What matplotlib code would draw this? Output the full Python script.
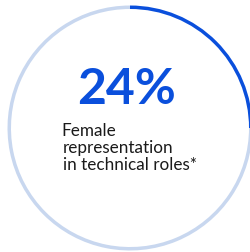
import matplotlib.pyplot as plt

# headline figure and the ring as drawn (the arc reaches 3 o'clock)
share = 24
ring_values = [25, 75]
colors = ["#0A4FDC", "#C8D7EF"]
headline = f"{share}%"
caption_lines = ["Female", "representation", "in technical roles*"]

W, H = 251, 253
fig = plt.figure(figsize=(W / 100, H / 100), dpi=100)
ax = fig.add_axes([0, 0, 1, 1])

cx, cy, r = 130, H - 129, 122.5
ax.pie(ring_values, colors=colors, startangle=90, counterclock=False,
       radius=r, center=(cx, cy), frame=True,
       wedgeprops=dict(width=3.5, edgecolor="none"))
ax.set_xlim(0, W)
ax.set_ylim(0, H)
ax.set_aspect("equal")
ax.axis("off")

ax.text(77, H - 104, headline, fontsize=36, fontweight="bold", color="#0A4FDC",
        family="Lato", ha="left", va="baseline")

# caption, one line at a time (17 px apart)
for i, line in enumerate(caption_lines):
    x = 61.5 if i == 0 else 63
    ax.text(x, H - 136 - 17 * i, line, fontsize=12.3, color="#1a1a1a",
            family="Lato", ha="left", va="baseline")
fig.savefig("out.png", dpi=100)
